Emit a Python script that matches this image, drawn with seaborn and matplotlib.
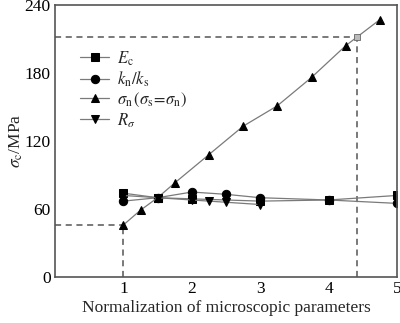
import matplotlib
matplotlib.use("Agg")
import matplotlib.pyplot as plt
import seaborn as sns
import pandas as pd

sns.set_theme(style="white")
plt.rcParams["font.family"] = ["Liberation Serif", "DejaVu Serif"]
plt.rcParams["mathtext.fontset"] = "stix"

# Normalized microscopic parameter values and resulting peak strength (MPa)
x_ec = [1, 1.5, 2, 3, 4, 5]
y_ec = [74, 70, 69, 67, 68, 72]

x_knks = [1, 1.5, 2, 2.5, 3, 4, 5]
y_knks = [67, 70, 75, 73, 70, 68, 65]

x_sn = [1, 1.25, 1.5, 1.75, 2.25, 2.75, 3.25, 3.75, 4.25, 4.75]
y_sn = [46, 59, 70, 83, 108, 133, 151, 176, 204, 227]

x_rs = [1, 1.5, 2, 2.25, 2.5, 3]
y_rs = [72, 70, 68, 67, 66, 64]

# Target strength and the corresponding normalized σn value
target_x = 4.41
target_y = 212
base_x = 1
base_y = 46

labels = [r"$E_{\rm c}$", r"$k_{\rm n}/k_{\rm s}$",
          r"$\sigma_{\rm n}\,(\sigma_{\rm s}\!=\!\sigma_{\rm n})$", r"$R_\sigma$"]
series = [(x_ec, y_ec, "s"), (x_knks, y_knks, "o"), (x_sn, y_sn, "^"), (x_rs, y_rs, "v")]

fig = plt.figure(figsize=(4.0, 3.23), dpi=100)
ax = fig.add_axes([0.1375, 0.142, 0.855, 0.843])

line_col = "#7a7a7a"
for (xs, ys, mk), lab in zip(series, labels):
    df = pd.DataFrame({"x": xs, "y": ys})
    sns.lineplot(data=df, x="x", y="y", ax=ax, color=line_col, linewidth=0.9,
                 marker=mk, markersize=6, markerfacecolor="black",
                 markeredgecolor="black", label=lab, sort=False)

# Guide lines to the axes
dash_kw = dict(color="#555555", linewidth=1.1, linestyle=(0, (4, 3)), zorder=1)
ax.plot([0, base_x], [base_y, base_y], **dash_kw)
ax.plot([base_x, base_x], [0, base_y], **dash_kw)
ax.plot([0, target_x], [target_y, target_y], **dash_kw)
ax.plot([target_x, target_x], [0, target_y], **dash_kw)
ax.plot([target_x], [target_y], marker="s", markersize=4.5, color="#bbbbbb",
        markeredgecolor="#666666", markeredgewidth=0.6, zorder=5)

ax.set_xlim(0, 5)
ax.set_ylim(0, 240)
ax.set_xticks([1, 2, 3, 4, 5])
ax.set_yticks([0, 60, 120, 180, 240])
ax.tick_params(direction="in", length=4, width=1, labelsize=12.5, colors="#555555",
               labelcolor="black", pad=3)
for s in ax.spines.values():
    s.set_color("#555555")
    s.set_linewidth(1.2)

ax.set_xlabel("Normalization of microscopic parameters", fontsize=12.5, labelpad=2)
ax.set_ylabel(r"$\sigma_{\rm c}$/MPa", fontsize=12.5, labelpad=0)

leg = ax.legend(loc="upper left", bbox_to_anchor=(0.04, 0.88), frameon=False,
                fontsize=12, handlelength=1.7, handletextpad=0.5,
                labelspacing=0.12, borderpad=0.2)

fig.savefig("out.png", dpi=100)
